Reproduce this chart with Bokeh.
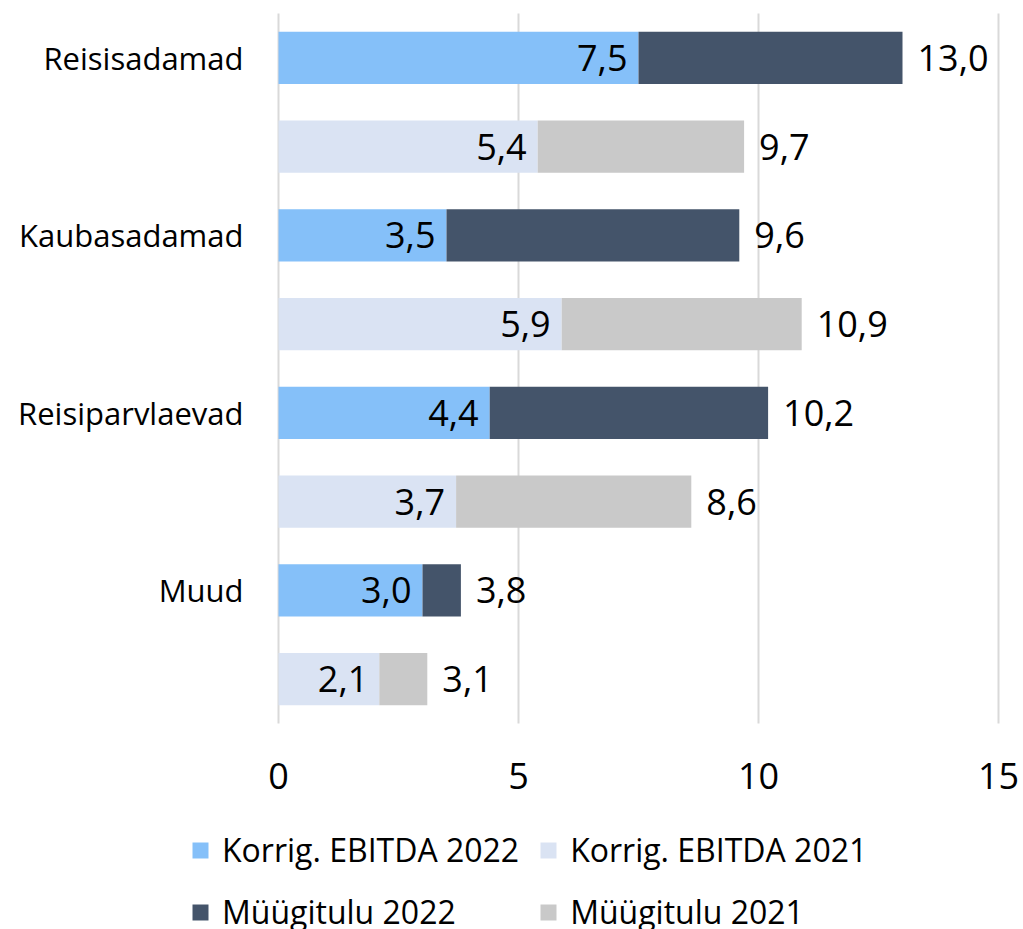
from bokeh.plotting import figure
from bokeh.models import Range1d, Legend, LegendItem, ColumnDataSource
from bokeh.embed import file_html
from bokeh.resources import INLINE
from bokeh.core.properties import value

categories = ["Reisisadamad", "Kaubasadamad", "Reisiparvlaevad", "Muud"]
ebitda_2022 = [7.5, 3.5, 4.4, 3.0]
revenue_2022 = [13.0, 9.6, 10.2, 3.8]
ebitda_2021 = [5.4, 5.9, 3.7, 2.1]
revenue_2021 = [9.7, 10.9, 8.6, 3.1]
x_ticks = [0, 5, 10, 15]
x_tick_labels = ["0", "5", "10", "15"]
series_names = ["Korrig. EBITDA 2022", "Korrig. EBITDA 2021", "Müügitulu 2022", "Müügitulu 2021"]
colors = ["#85C0F9", "#DAE3F3", "#44546A", "#C9C9C9"]

FONT = "Open Sans"
W, H = 1023, 929
PLOT_L, PLOT_R, PLOT_T, PLOT_B = 278, 998, 13, 723   # plot area in pixels
n_slots = 2 * len(categories)
px_x = (PLOT_R - PLOT_L) / (x_ticks[-1] - x_ticks[0])
px_y = (PLOT_B - PLOT_T) / n_slots

y22 = [2 * i + 0.5 for i in range(len(categories))]
y21 = [2 * i + 1.5 for i in range(len(categories))]

def fmt(v):
    return f"{v:.1f}".replace(".", ",")

src22 = ColumnDataSource(dict(y=y22, e=ebitda_2022, r=revenue_2022,
                              el=[fmt(v) for v in ebitda_2022], rl=[fmt(v) for v in revenue_2022]))
src21 = ColumnDataSource(dict(y=y21, e=ebitda_2021, r=revenue_2021,
                              el=[fmt(v) for v in ebitda_2021], rl=[fmt(v) for v in revenue_2021]))

p = figure(width=W, height=H,
           x_range=Range1d(x_ticks[0] - PLOT_L / px_x, x_ticks[-1] + (W - PLOT_R) / px_x),
           y_range=Range1d(n_slots + (H - PLOT_B) / px_y, -PLOT_T / px_y),
           x_axis_location=None, y_axis_location=None,
           output_backend="svg", toolbar_location=None,
           min_border=0, min_border_left=0, min_border_right=0, min_border_top=0, min_border_bottom=0)
p.outline_line_color = None
p.grid.visible = False

# vertical gridlines across the plot area only
p.segment(x0=x_ticks, x1=x_ticks, y0=[0] * len(x_ticks), y1=[n_slots] * len(x_ticks),
          line_color="#D9D9D9", line_width=2)

BH = 0.586
r_e22 = p.hbar(y="y", left=0, right="e", height=BH, source=src22, fill_color=colors[0], line_color=None)
r_r22 = p.hbar(y="y", left="e", right="r", height=BH, source=src22, fill_color=colors[2], line_color=None)
r_e21 = p.hbar(y="y", left=0, right="e", height=BH, source=src21, fill_color=colors[1], line_color=None)
r_r21 = p.hbar(y="y", left="e", right="r", height=BH, source=src21, fill_color=colors[3], line_color=None)

for src in (src22, src21):
    p.text(x="e", y="y", text="el", source=src, text_align="right", text_baseline="middle",
           x_offset=-11, text_font=value(FONT), text_font_size="36px", text_color="black")
    p.text(x="r", y="y", text="rl", source=src, text_align="left", text_baseline="middle",
           x_offset=15, text_font=value(FONT), text_font_size="36px", text_color="black")

# x tick labels
p.text(x=x_ticks, y=[n_slots + 52 / px_y] * len(x_ticks), text=x_tick_labels,
       text_align="center", text_baseline="middle",
       text_font=value(FONT), text_font_size="36px", text_color="black")

# category labels
p.text(x=[0] * len(categories), y=y22, text=categories, x_offset=-35,
       text_align="right", text_baseline="middle",
       text_font=value(FONT), text_font_size="31px", text_color="black")

legend = Legend(items=[LegendItem(label=series_names[0], renderers=[r_e22]),
                       LegendItem(label=series_names[1], renderers=[r_e21]),
                       LegendItem(label=series_names[2], renderers=[r_r22]),
                       LegendItem(label=series_names[3], renderers=[r_r21])],
                orientation="horizontal", ncols=2, location=(190, -4),
                label_text_font=FONT, label_text_font_size="32px", label_text_color="black",
                glyph_width=20, glyph_height=20, label_standoff=12, spacing=19,
                padding=0, margin=0, border_line_color=None, background_fill_alpha=0)
p.add_layout(legend, "center")

open("out.html", "w").write(file_html(p, INLINE))
